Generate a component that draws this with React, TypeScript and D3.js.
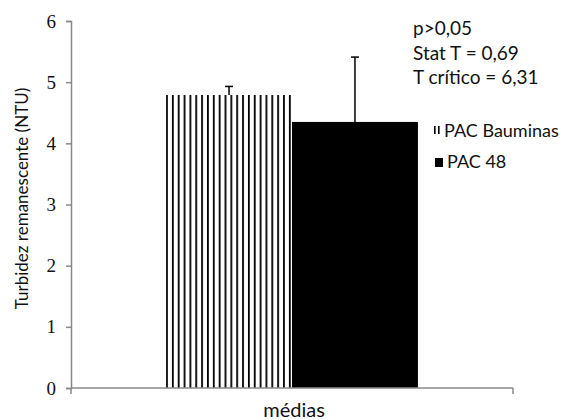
import * as d3 from 'd3';
import { useEffect, useRef } from 'react';

const categories = ['médias'];
const seriesNames = ['PAC Bauminas', 'PAC 48'];
const means = [4.79, 4.35];
const errors = [0.14, 1.06];
const yTicks = [0, 1, 2, 3, 4, 5, 6];
const statLines = ['p>0,05', 'Stat T = 0,69', 'T crítico = 6,31'];

const App = () => {
  const ref = useRef<SVGSVGElement>(null);

  useEffect(() => {
    const svg = d3.select(ref.current);
    svg.selectAll('*').remove();

    const width = 563;
    const height = 420;
    const margin = { top: 21, right: 50, bottom: 32, left: 71 };
    const sans = 'Lato, "Noto Sans", sans-serif';
    const serif = '"Liberation Serif", "Times New Roman", serif';
    const axisColor = '#888';

    const x = d3.scaleBand().domain(categories).range([margin.left, width - margin.right]).padding(0.274);
    const xs = d3.scaleBand().domain(seriesNames).range([0, x.bandwidth()]);
    const y = d3.scaleLinear().domain([0, 6]).range([height - margin.bottom, margin.top]);

    // vertical stripes fill
    const defs = svg.append('defs');
    const pat = defs.append('pattern')
      .attr('id', 'stripes')
      .attr('patternUnits', 'userSpaceOnUse')
      .attr('x', x(categories[0])!)
      .attr('width', 5.85)
      .attr('height', 10);
    pat.append('rect').attr('width', 5.85).attr('height', 10).attr('fill', '#fff');
    pat.append('rect').attr('x', 0).attr('width', 1.8).attr('height', 10).attr('fill', '#000');

    const fills = ['url(#stripes)', '#000'];

    const g = svg.append('g');
    seriesNames.forEach((s, i) => {
      const bx = x(categories[0])! + xs(s)!;
      g.append('rect')
        .attr('x', bx)
        .attr('y', y(means[i]))
        .attr('width', xs.bandwidth())
        .attr('height', y(0) - y(means[i]))
        .attr('fill', fills[i]);
      // upper error bar only
      const cx = bx + xs.bandwidth() / 2;
      g.append('line')
        .attr('x1', cx).attr('x2', cx)
        .attr('y1', y(means[i])).attr('y2', y(means[i] + errors[i]))
        .attr('stroke', '#000').attr('stroke-width', 1.5);
      g.append('line')
        .attr('x1', cx - 4).attr('x2', cx + 4)
        .attr('y1', y(means[i] + errors[i])).attr('y2', y(means[i] + errors[i]))
        .attr('stroke', '#000').attr('stroke-width', 1.5);
    });

    // y axis
    const yAxis = svg.append('g')
      .attr('transform', `translate(${margin.left},0)`)
      .call(d3.axisLeft(y).tickValues(yTicks).tickFormat(d3.format('d')).tickSize(5).tickPadding(10));
    yAxis.select('.domain').attr('stroke', axisColor).attr('stroke-width', 1.5);
    yAxis.selectAll('.tick line').attr('stroke', axisColor).attr('stroke-width', 1.5);
    yAxis.selectAll('.tick text')
      .attr('fill', '#111')
      .attr('font-family', serif)
      .attr('font-size', 19)
      .style('font-family', serif);

    // x axis
    const x0 = margin.left;
    const x1 = width - margin.right;
    const xAxis = svg.append('g');
    xAxis.append('line')
      .attr('x1', x0).attr('x2', x1)
      .attr('y1', y(0)).attr('y2', y(0))
      .attr('stroke', axisColor).attr('stroke-width', 1.5);
    [x0, x1].forEach(px => {
      xAxis.append('line')
        .attr('x1', px).attr('x2', px)
        .attr('y1', y(0)).attr('y2', y(0) + 6)
        .attr('stroke', axisColor).attr('stroke-width', 1.5);
    });
    xAxis.append('text')
      .attr('x', x(categories[0])! + x.bandwidth() / 2 + 2)
      .attr('y', 417)
      .attr('text-anchor', 'middle')
      .attr('font-family', sans)
      .attr('font-size', 20)
      .attr('fill', '#111')
      .text(categories[0]);

    // y title
    svg.append('text')
      .attr('transform', `translate(28,${(y(0) + y(6)) / 2 - 6}) rotate(-90)`)
      .attr('text-anchor', 'middle')
      .attr('font-family', sans)
      .attr('font-size', 17)
      .attr('fill', '#111')
      .text('Turbidez remanescente (NTU)');

    // stats text
    const statY = [35, 60, 84];
    statLines.forEach((t, i) => {
      svg.append('text')
        .attr('x', 413)
        .attr('y', statY[i])
        .attr('font-family', sans)
        .attr('font-size', 19)
        .attr('fill', '#111')
        .text(t);
    });

    // legend
    const legend = svg.append('g').attr('transform', 'translate(434,0)');
    const legendY = [137, 168];
    seriesNames.forEach((s, i) => {
      const ly = legendY[i];
      if (i === 0) {
        legend.append('rect').attr('x', 0).attr('y', ly - 11).attr('width', 1.6).attr('height', 8).attr('fill', '#000');
        legend.append('rect').attr('x', 4).attr('y', ly - 11).attr('width', 1.6).attr('height', 8).attr('fill', '#000');
      } else {
        legend.append('rect').attr('x', 1).attr('y', ly - 10).attr('width', 8).attr('height', 9).attr('fill', '#000');
      }
      legend.append('text')
        .attr('x', i === 0 ? 10 : 13)
        .attr('y', ly)
        .attr('font-family', sans)
        .attr('font-size', 18)
        .attr('fill', '#111')
        .text(s);
    });
  }, []);

  return <svg ref={ref} width={563} height={420} style={{ position: 'absolute', left: 0, top: 0 }} />;
};

export default App;
